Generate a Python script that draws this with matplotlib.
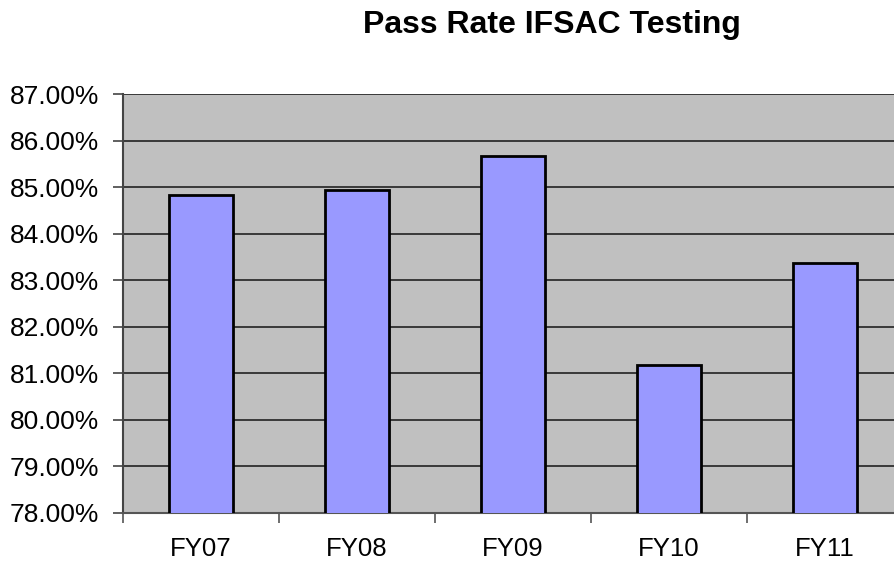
import matplotlib
matplotlib.use("Agg")
import matplotlib.pyplot as plt
from matplotlib.ticker import FuncFormatter, MultipleLocator

plt.rcParams["font.family"] = ["Liberation Sans", "DejaVu Sans"]

# Values.
YEARS = ["FY07", "FY08", "FY09", "FY10", "FY11"]
PASS_RATE = [84.82, 84.94, 85.66, 81.18, 83.37]

BAR_COLOR = "#9999FF"
PLOT_BG = "#C0C0C0"

fig = plt.figure(figsize=(8.95, 5.63), dpi=100)
# The plot area runs past the right edge of the image, as in the original.
ax = fig.add_axes([123 / 895, 50 / 563, 780 / 895, 419 / 563])
ax.set_facecolor(PLOT_BG)

xs = range(len(YEARS))
ax.bar(xs, PASS_RATE, width=0.41, color=BAR_COLOR, edgecolor="black",
       linewidth=2, zorder=3)

ax.set_xlim(-0.5, len(YEARS) - 0.5)
ax.set_ylim(78, 87)
ax.yaxis.set_major_locator(MultipleLocator(1))
ax.yaxis.set_major_formatter(FuncFormatter(lambda v, _: f"{v:.2f}%"))
ax.grid(axis="y", color="#222222", linewidth=1.2, zorder=1)
ax.set_axisbelow(True)

# Category labels centred, tick marks on the boundaries between categories.
ax.set_xticks(list(xs))
ax.set_xticklabels(YEARS)
ax.set_xticks([i - 0.5 for i in range(len(YEARS) + 1)], minor=True)
ax.tick_params(axis="x", which="major", length=0, pad=17, labelsize=18.5)
ax.tick_params(axis="x", which="minor", length=7, width=1.2, color="#555555")
ax.tick_params(axis="y", length=7, width=1.2, color="#444444", pad=10,
               labelsize=19)

for side in ("top", "right"):
    ax.spines[side].set_visible(False)
ax.spines["left"].set_color("#444444")
ax.spines["left"].set_linewidth(1.5)
ax.spines["bottom"].set_color("#555555")
ax.spines["bottom"].set_linewidth(1.5)

fig.text(552 / 895, 1 - 33 / 563, "Pass Rate IFSAC Testing", ha="center",
         va="baseline", fontsize=23, fontweight="bold")

fig.savefig("out.png", dpi=100, facecolor="white")
